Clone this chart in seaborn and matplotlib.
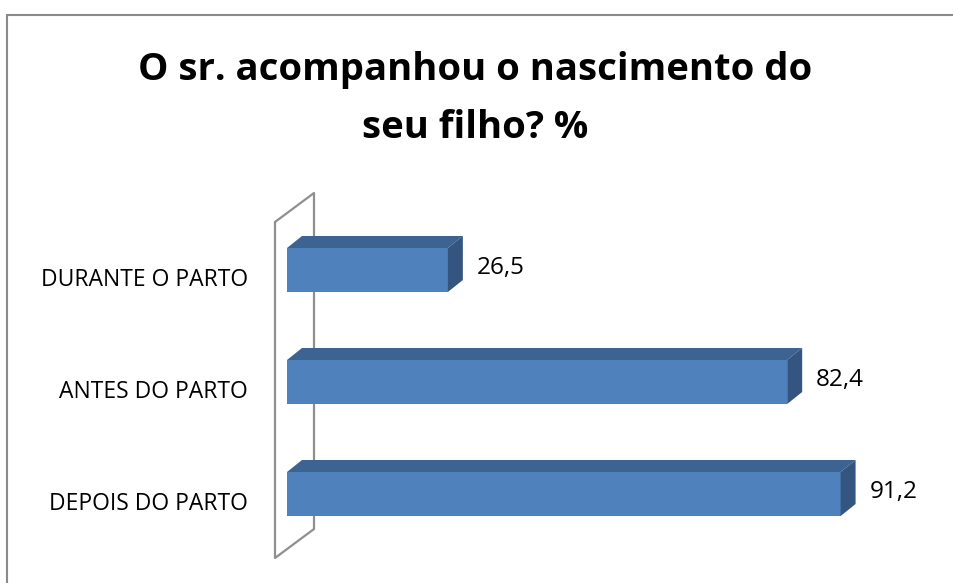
import matplotlib
matplotlib.use("Agg")
import matplotlib.pyplot as plt
import matplotlib.transforms as mtransforms
from matplotlib.patches import Polygon, Rectangle
from matplotlib.lines import Line2D
import seaborn as sns
import pandas as pd

categories = ["DURANTE O PARTO", "ANTES DO PARTO", "DEPOIS DO PARTO"]
values = [26.5, 82.4, 91.2]
value_labels = ["26,5", "82,4", "91,2"]
title_lines = ["O sr. acompanhou o nascimento do", "seu filho? %"]

sns.set_theme(style="white")
plt.rcParams["font.family"] = ["Open Sans", "DejaVu Sans"]

W, H = 954, 583
fig = plt.figure(figsize=(W / 100, H / 100), dpi=100)
fig.patch.set_facecolor("white")

# axes: x=0 at px 287, x=100 at px 894; top px 214, bottom px 550
ax = fig.add_axes([287 / W, (H - 550) / H, 607 / W, 336 / H])
df = pd.DataFrame({"cat": categories, "val": values})
front = "#4F81BD"
top_c = "#3C6391"
side_c = "#33557F"
sns.barplot(data=df, x="val", y="cat", orient="h", color=front, saturation=1,
            width=0.393, ax=ax, edgecolor="none")
ax.set_xlim(0, 100)
ax.set_ylim(2.5, -0.5)
ax.axis("off")
ax.patch.set_alpha(0)
ax.set_zorder(2)

fig.canvas.draw()
inv = fig.transFigure.inverted()
dx, dy = 15, 12
for p in ax.patches:
    x0, y0 = p.get_x(), p.get_y()
    w, h = p.get_width(), p.get_height()
    (px0, pyA), (px1, pyB) = ax.transData.transform([(x0, y0), (x0 + w, y0 + h)])
    ytop, ybot = max(pyA, pyB), min(pyA, pyB)
    topface = [(px0, ytop), (px1, ytop), (px1 + dx, ytop + dy), (px0 + dx, ytop + dy)]
    sideface = [(px1, ytop), (px1, ybot), (px1 + dx, ybot + dy), (px1 + dx, ytop + dy)]
    fig.patches.append(Polygon(inv.transform(topface), closed=True, fc=top_c, ec="none",
                               transform=fig.transFigure, zorder=3))
    fig.patches.append(Polygon(inv.transform(sideface), closed=True, fc=side_c, ec="none",
                               transform=fig.transFigure, zorder=3))

# value labels
off_v = mtransforms.ScaledTranslation(29 / 100, 2 / 100, fig.dpi_scale_trans)
for i, (v, lab) in enumerate(zip(values, value_labels)):
    ax.text(v, i, lab, transform=ax.transData + off_v, ha="left", va="center",
            fontsize=17.5, color="black")

# category labels
off_c = mtransforms.ScaledTranslation(-39 / 100, -10 / 100, fig.dpi_scale_trans)
for i, cat in enumerate(categories):
    ax.text(0, i, cat, transform=ax.transData + off_c, ha="right", va="center",
            fontsize=16.5, color="black")

# left wall (3D back wall)
wall_pts = [(275, 222), (314, 193), (314, 529), (275, 558), (275, 222)]
wx = [p[0] / W for p in wall_pts]
wy = [(H - p[1]) / H for p in wall_pts]
fig.lines.append(Line2D(wx, wy, transform=fig.transFigure, color="#8f8f8f", lw=1.6,
                        zorder=1))

# outer border
fig.patches.append(Rectangle((7 / W, -0.2), 1.5, (H - 15) / H + 0.2, fill=False,
                             ec="#8a8a8a", lw=1.5, transform=fig.transFigure, zorder=0))

# title
fig.text(475 / W, (H - 80) / H, title_lines[0], ha="center", va="baseline",
         fontsize=27.5, fontweight="bold", color="black")
fig.text(475 / W, (H - 138) / H, title_lines[1], ha="center", va="baseline",
         fontsize=27.5, fontweight="bold", color="black")

fig.savefig("out.png", dpi=100, facecolor="white")
